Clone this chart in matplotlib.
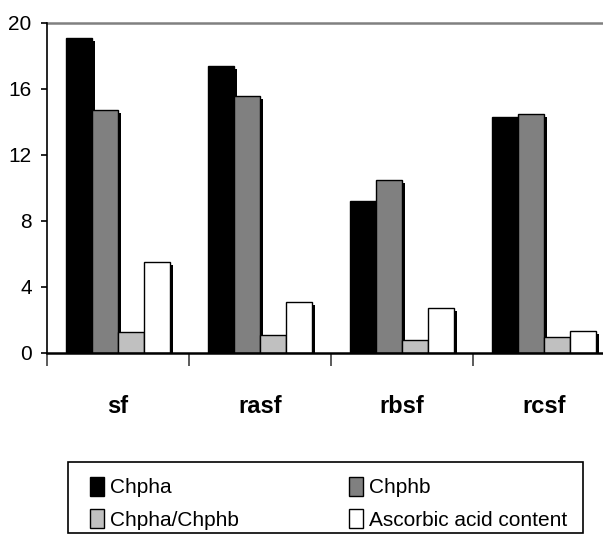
import matplotlib
matplotlib.use("Agg")
import matplotlib.pyplot as plt
import matplotlib.transforms as mtransforms
from matplotlib.patches import Rectangle
import numpy as np

plt.rcParams['font.family'] = ['Liberation Sans Narrow', 'Liberation Sans', 'DejaVu Sans']

categories = ['sf', 'rasf', 'rbsf', 'rcsf']
series_names = ['Chpha', 'Chphb', 'Chpha/Chphb', 'Ascorbic acid content']
chpha = [19.1, 17.4, 9.2, 14.3]
chphb = [14.7, 15.6, 10.5, 14.5]
ratio = [1.25, 1.1, 0.8, 0.95]
ascorbic = [5.5, 3.1, 2.7, 1.35]
colors = ['#000000', '#808080', '#c0c0c0', '#ffffff']

fig = plt.figure(figsize=(6.03, 5.36), dpi=100)
ax = fig.add_axes([47 / 603, 1 - 353 / 536, 568 / 603, 330 / 536])

x = np.arange(len(categories))
w = 0.183
# shadow offset 3px right, 3px down
shadow = ax.transData + mtransforms.ScaledTranslation(3 / 100, -3 / 100, fig.dpi_scale_trans)
handles = []
for i, vals in enumerate([chpha, chphb, ratio, ascorbic]):
    pos = x + (i - 1.5) * w
    sb = ax.bar(pos, vals, w, color='black', zorder=1)
    for p in sb:
        p.set_transform(shadow)
    bc = ax.bar(pos, vals, w, color=colors[i], edgecolor='black', linewidth=1.0,
                label=series_names[i], zorder=2)
    handles.append(bc)

ax.set_xlim(-0.5, 3.5)
ax.set_ylim(0, 20)
ax.set_yticks([0, 4, 8, 12, 16, 20])
ax.tick_params(axis='y', direction='out', length=4.5, width=1.2, labelsize=15, pad=6.5)

ax.set_xticks(np.arange(-0.5, 4, 1))
ax.set_xticklabels([])
ax.tick_params(axis='x', which='major', direction='out', length=9, width=1.2, color='#404040')
ax.set_xticks(x, minor=True)
ax.set_xticklabels(categories, minor=True, fontsize=17, fontweight='bold')
ax.tick_params(axis='x', which='minor', length=0, pad=30)

ax.axhline(20, color='#808080', lw=1.8, zorder=0, clip_on=False)
ax.spines['top'].set_visible(False)
ax.spines['right'].set_visible(False)
ax.spines['left'].set_linewidth(1.2)
ax.spines['bottom'].set_linewidth(1.8)
ax.spines['bottom'].set_zorder(3)

# legend box drawn separately, legend itself frameless
fig.patches.append(Rectangle((68 / 603, 3 / 536), 515 / 603, 71 / 536, transform=fig.transFigure,
                             fill=False, edgecolor='black', linewidth=1.2))
# legend fills column-wise, so reorder to get rows: Chpha Chphb / ratio ascorbic
order = [0, 2, 1, 3]
leg = fig.legend([handles[k] for k in order], [series_names[k] for k in order],
                 loc='center left', ncol=2,
                 bbox_to_anchor=(90 / 603, 1 - 503 / 536),
                 fontsize=15, frameon=False,
                 handlelength=0.65, handleheight=1.05, handletextpad=0.3,
                 labelspacing=0.55, borderpad=0, borderaxespad=0, columnspacing=5.3)

fig.savefig('out.png', dpi=100)
